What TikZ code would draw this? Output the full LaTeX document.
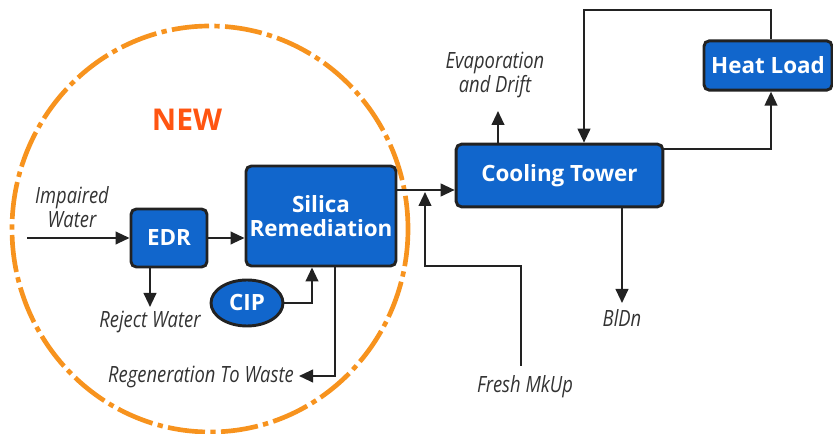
\documentclass[tikz,border=0pt]{standalone}
\usepackage{fontspec}
\setmainfont{Open Sans}
\newfontfamily\labfont[FakeStretch=0.82]{Open Sans}
\usetikzlibrary{arrows.meta,shapes.geometric}
\definecolor{boxblue}{HTML}{1166CC}
\definecolor{boxline}{HTML}{222222}
\definecolor{ringorange}{HTML}{F7931E}
\definecolor{neworange}{HTML}{FF5511}
\definecolor{txtgray}{HTML}{333333}
\tikzset{
  blockbox/.style={draw=boxline,line width=2.2pt,fill=boxblue,rounded corners=4pt,
    text=white,font=\fontsize{16.8}{19}\selectfont\bfseries,align=center,inner sep=0pt},
  flow/.style={draw=boxline,line width=1.5pt,-{Triangle[length=10.5pt,width=9.5pt]}},
  lab/.style={text=txtgray,font=\labfont\itshape\fontsize{16.8}{18.5}\selectfont,align=center,inner sep=0pt},
}
\begin{document}
\begin{tikzpicture}[x=0.75pt,y=-0.75pt]
\useasboundingbox (0,0) rectangle (833,434);
% ring
\draw[ringorange,line width=3.5pt,dash pattern=on 28pt off 4pt on 4pt off 4pt] (210,229) ellipse [x radius=198,y radius=203];
\node[text=neworange,font=\fontsize{22.5}{26}\selectfont\bfseries] (new) at (187,120) {NEW};
% boxes
\node[blockbox,minimum width=57pt,minimum height=43.5pt] (edr) at (169,238) {EDR};
\node[blockbox,minimum width=112.5pt,minimum height=75pt] (sil) at (321,216) {Silica\\[-1pt]Remediation};
\node[blockbox,ellipse,rounded corners=0pt,minimum width=54pt,minimum height=34.5pt] (cip) at (247,303) {CIP};
\node[blockbox,minimum width=155pt,minimum height=47pt] (ct) at (559.5,175.5) {Cooling Tower};
\node[blockbox,minimum width=96pt,minimum height=37pt] (hl) at (768,65.5) {Heat Load};
% labels
\node[lab] (imp) at (72,207) {Impaired\\Water};
\node[lab] (rej) at (150,322) {Reject Water};
\node[lab,anchor=east] (regen) at (294,377) {Regeneration To Waste};
\node[lab] (fresh) at (525,387) {Fresh MkUp};
\node[lab] (bldn) at (622,318) {BlDn};
\node[lab] (evap) at (495,75) {Evaporation\\and Drift};
% coordinates
\coordinate (inp) at (27,238);
\coordinate (rejend) at (150,307);
\coordinate (cipx) at (312,0);
\coordinate (wastex) at (335,0);
\coordinate (wasteend) at (299,376);
\coordinate (feedy) at (0,190);
\coordinate (mkbot) at (521,366);
\coordinate (mkcorner) at (425,266);
\coordinate (mkend) at (425,192);
\coordinate (evend) at (498,111);
\coordinate (bdend) at (622,303);
\coordinate (hly) at (0,149);
\coordinate (hlx) at (771,0);
\coordinate (topl) at (584,10);
% connectors
\draw[flow] (inp) -- (edr.west);
\draw[flow] (edr.east) -- (edr.east -| sil.west);
\draw[flow] (edr.south -| rejend) -- (rejend);
\draw[flow] (cip.east) -| (sil.south -| cipx);
\draw[flow] (sil.south -| wastex) |- (wasteend);
\draw[flow] (sil.east |- feedy) -- (ct.west |- feedy);
\draw[flow] (mkbot) |- (mkcorner) -- (mkend);
\draw[flow] (ct.north -| evend) -- (evend);
\draw[flow] (ct.south -| bdend) -- (bdend);
\draw[flow] (ct.east |- hly) -| (hl.south -| hlx);
\draw[flow] (hl.north -| hlx) |- (topl) -- (ct.north -| topl);
\end{tikzpicture}
\end{document}
